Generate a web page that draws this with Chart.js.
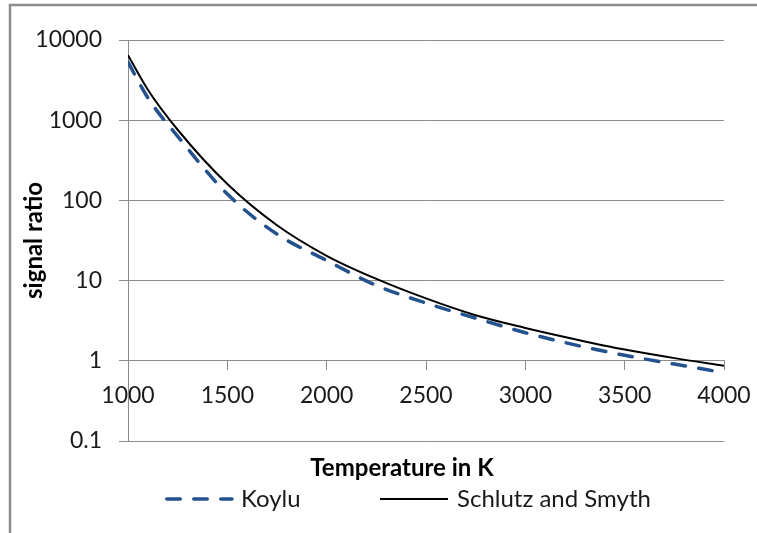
<!DOCTYPE html>
<html>
<head>
<meta charset="utf-8">
<title>signal ratio vs temperature</title>
<script src="https://cdn.jsdelivr.net/npm/chart.js@4.4.1/dist/chart.umd.min.js"></script>
<style>
    html, body { margin: 0; padding: 0; background: #fff; }
    #wrap { position: relative; width: 757px; height: 533px; }
</style>
</head>
<body>
<div id="wrap"><canvas id="chart"></canvas></div>
<script>
// data (temperature in K -> signal ratio)
const temperatures = [1000, 1100, 1250, 1500, 1750, 2000, 2250, 2500, 2750, 3000, 3250, 3500, 3750, 4000];
const koyluValues = [5300, 1900, 630, 120, 38, 17.8, 8.7, 5.25, 3.4, 2.24, 1.58, 1.17, 0.91, 0.71];
const schlutzValues = [6450, 2400, 760, 160, 49, 20.4, 10.5, 6.0, 3.7, 2.57, 1.86, 1.38, 1.08, 0.87];
const xTickValues = [1000, 1500, 2000, 2500, 3000, 3500, 4000];
const yTickValues = [0.1, 1, 10, 100, 1000, 10000];
const seriesNames = ['Koylu', 'Schlutz and Smyth'];
const xTitle = 'Temperature in K';
const yTitle = 'signal ratio';

const FONT = 'Lato, "Open Sans", sans-serif';
const GRID = '#8c8c8c';

function toPoints(values) {
    return temperatures.map((t, i) => ({ x: t, y: values[i] }));
}

// frame, axis titles and legend drawn by hand (Excel-like layout)
const excelDecor = {
    id: 'excelDecor',
    beforeDraw(chart) {
        const ctx = chart.ctx;
        ctx.save();
        ctx.fillStyle = '#fff';
        ctx.fillRect(0, 0, chart.width, chart.height);
        ctx.strokeStyle = GRID;
        ctx.lineWidth = 2.5;
        ctx.strokeRect(10, 5, chart.width + 20, chart.height + 20);
        ctx.restore();
    },
    afterDraw(chart) {
        const ctx = chart.ctx;
        const area = chart.chartArea;
        ctx.save();
        ctx.fillStyle = '#000';
        ctx.font = 'bold 24px ' + FONT;
        ctx.textAlign = 'center';
        ctx.textBaseline = 'middle';
        ctx.fillText(xTitle, 402, 468);

        ctx.save();
        ctx.translate(34, (area.top + area.bottom) / 2);
        ctx.rotate(-Math.PI / 2);
        ctx.fillText(yTitle, 0, 0);
        ctx.restore();

        // legend
        const legendY = 499;
        const slots = [
            { x0: 165, x1: 232, tx: 241 },
            { x0: 380, x1: 448, tx: 457 }
        ];
        ctx.font = '24px ' + FONT;
        ctx.textAlign = 'left';
        chart.data.datasets.forEach((ds, i) => {
            const s = slots[i];
            ctx.save();
            ctx.strokeStyle = ds.borderColor;
            ctx.lineWidth = ds.borderWidth;
            ctx.lineCap = ds.borderCapStyle || 'butt';
            ctx.setLineDash(ds.borderDash || []);
            ctx.beginPath();
            ctx.moveTo(s.x0 + (ds.borderDash ? ds.borderWidth / 2 : 0), legendY);
            ctx.lineTo(s.x1, legendY);
            ctx.stroke();
            ctx.restore();
            ctx.fillStyle = '#1a1a1a';
            ctx.fillText(ds.label, s.tx, legendY);
        });
        ctx.restore();
    }
};

const ctx = document.getElementById('chart').getContext('2d');
const chart = new Chart(ctx, {
    type: 'line',
    data: {
        datasets: [
            {
                label: seriesNames[0],
                data: toPoints(koyluValues),
                borderColor: '#24528f',
                borderWidth: 3.5,
                borderDash: [13.5, 13.5],
                borderCapStyle: 'round',
                pointRadius: 0,
                cubicInterpolationMode: 'monotone',
                fill: false,
                order: 2
            },
            {
                label: seriesNames[1],
                data: toPoints(schlutzValues),
                borderColor: '#000',
                borderWidth: 2,
                pointRadius: 0,
                cubicInterpolationMode: 'monotone',
                fill: false,
                order: 1
            }
        ]
    },
    options: {
        responsive: true,
        maintainAspectRatio: false,
        animation: false,
        layout: {
            padding: { top: 40, right: 33, bottom: 92, left: 0 }
        },
        plugins: {
            legend: { display: false },
            tooltip: { enabled: false }
        },
        scales: {
            x: {
                type: 'linear',
                position: { y: 1 },
                min: 1000,
                max: 4000,
                afterBuildTicks: (scale) => {
                    scale.ticks = xTickValues.map(v => ({ value: v }));
                },
                afterFit: (scale) => {
                    // labels may hang past the plot edge, as in Excel
                    scale.paddingLeft = 0;
                    scale.paddingRight = 0;
                },
                grid: {
                    drawOnChartArea: false,
                    drawTicks: true,
                    tickLength: 9,
                    color: GRID
                },
                border: { display: true, color: GRID, width: 1 },
                ticks: {
                    autoSkip: false,
                    maxRotation: 0,
                    padding: 12,
                    color: '#1a1a1a',
                    font: { family: FONT, size: 23 },
                    callback: (v) => String(v)
                }
            },
            y: {
                type: 'logarithmic',
                position: 'left',
                min: 0.1,
                max: 10000,
                afterBuildTicks: (scale) => {
                    scale.ticks = yTickValues.map(v => ({ value: v }));
                },
                afterFit: (scale) => {
                    scale.width = 128;
                },
                grid: {
                    drawTicks: true,
                    tickLength: 9,
                    color: GRID
                },
                border: { display: true, color: GRID, width: 1 },
                ticks: {
                    autoSkip: false,
                    padding: 17,
                    color: '#1a1a1a',
                    font: { family: FONT, size: 23 },
                    callback: (v) => String(v)
                }
            }
        }
    },
    plugins: [excelDecor]
});
</script>
</body>
</html>
